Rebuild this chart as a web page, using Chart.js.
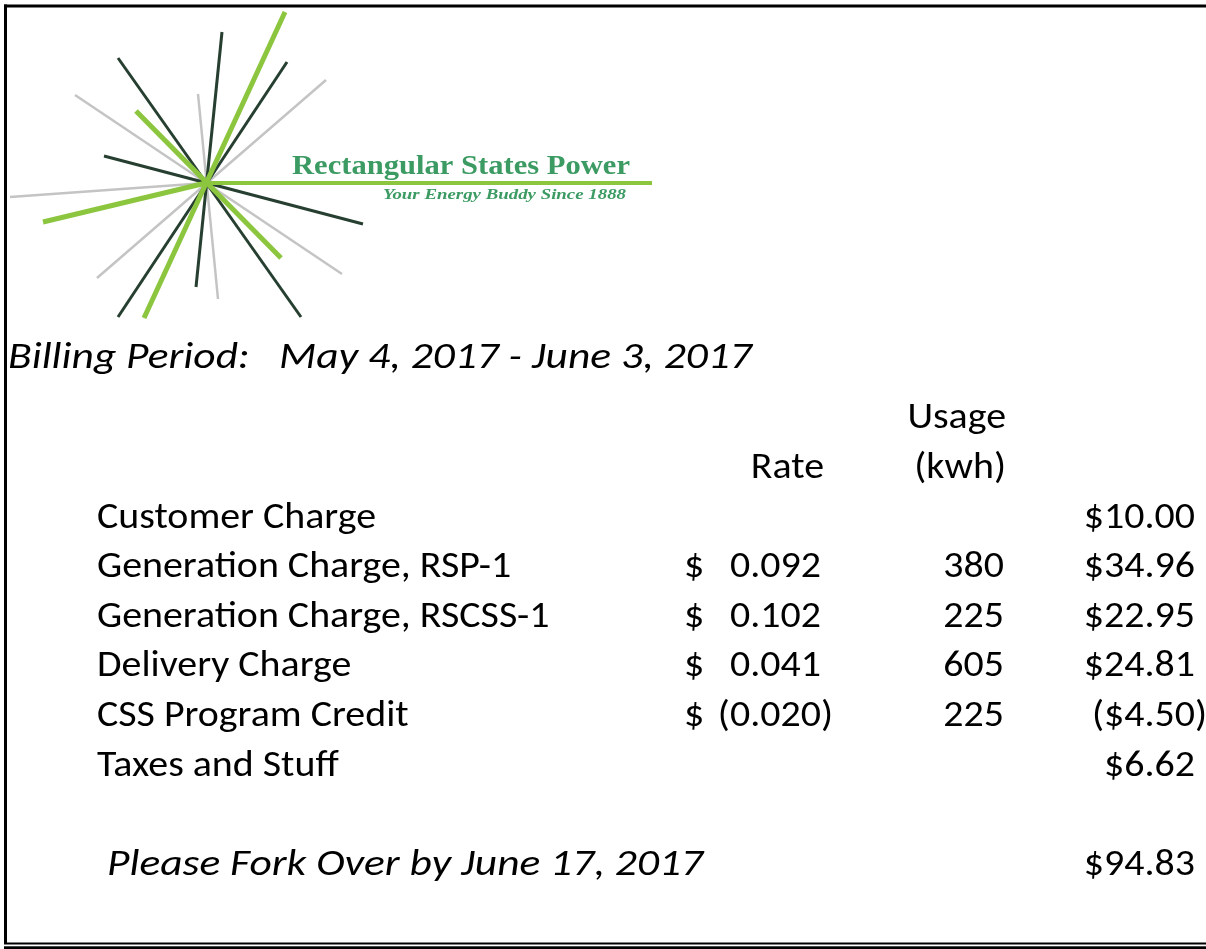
<!DOCTYPE html>
<html>
<head>
<meta charset="utf-8">
<script src="https://cdn.jsdelivr.net/npm/chart.js@4.4.0/dist/chart.umd.min.js"></script>
<style>
  html, body { margin: 0; padding: 0; background: #fff; }
  #wrap { position: relative; width: 1206px; height: 949px; overflow: hidden; }
</style>
</head>
<body>
<div id="wrap"><canvas id="bill" width="1206" height="949"></canvas></div>
<script>
// bill lines
const items = ["Customer Charge", "Generation Charge, RSP-1", "Generation Charge, RSCSS-1",
               "Delivery Charge", "CSS Program Credit", "Taxes and Stuff"];
const rates = [null, 0.092, 0.102, 0.041, -0.020, null];
const usage = [null, 380, 225, 605, 225, null];
const amounts = [10.00, 34.96, 22.95, 24.81, -4.50, 6.62];
const totalDue = 94.83;
const billingPeriod = "Billing Period:   May 4, 2017 - June 3, 2017";
const dueLine = "Please Fork Over by June 17, 2017";
const colHeaders = ["Rate", "Usage", "(kwh)"];
const company = "Rectangular States Power";
const tagline = "Your Energy Buddy Since 1888";

// logo rays (image pixels); first ones end up on top
const rayX1 = [285, 136, 43, 206,  222, 118, 287, 104,  326, 75, 10, 198];
const rayY1 = [12, 111, 222, 183,  32, 58, 62, 156,     80, 95, 197, 94];
const rayX2 = [144, 281, 206, 652, 196, 301, 118, 363,  97, 342, 206, 218];
const rayY2 = [318, 258, 183, 183, 287, 317, 317, 224,  278, 274, 183, 299];
const rayKind = ['g', 'g', 'g', 'h', 'd', 'd', 'd', 'd', 'a', 'a', 'a', 'a'];

const rayStyle = {
  g: { color: '#8cc63f', width: 5 },
  h: { color: '#8cc63f', width: 4 },
  d: { color: '#263f30', width: 3 },
  a: { color: '#c4c4c4', width: 2.5 }
};

const SANS = "Carlito, Lato, 'Open Sans', sans-serif";
const SERIF = "'Liberation Serif', 'DejaVu Serif', serif";

function fmtMoney(v) {
  const s = '$' + Math.abs(v).toFixed(2);
  return v < 0 ? '(' + s + ')' : s;
}
function fmtRate(v) {
  const s = Math.abs(v).toFixed(3);
  return v < 0 ? '(' + s + ')' : s;
}

function stretch(ctx, font, sample, target) {
  ctx.font = font;
  return target / ctx.measureText(sample).width;
}

function put(ctx, text, x, y, align, font, sx, color) {
  ctx.save();
  ctx.font = font;
  ctx.fillStyle = color || '#000';
  ctx.textAlign = align;
  ctx.textBaseline = 'alphabetic';
  ctx.translate(x, y);
  ctx.scale(sx, 1);
  ctx.fillText(text, 0, 0);
  ctx.restore();
}

const billPlugin = {
  id: 'billText',
  afterDraw(chart) {
    const ctx = chart.ctx;
    const xs = chart.scales.x, ys = chart.scales.y;
    const px = v => xs.getPixelForValue(v);
    const py = v => ys.getPixelForValue(v);

    const body = '37px ' + SANS;
    const ital = 'italic 37px ' + SANS;
    const sx = stretch(ctx, body, items[0], 279);
    const sxi = stretch(ctx, ital, dueLine, 596);

    // logo text
    const green = '#3b9b62';
    const coFont = 'bold 27px ' + SERIF;
    put(ctx, company, px(292), py(174), 'left', coFont, stretch(ctx, coFont, company, 338), green);
    const tagFont = 'italic bold 14px ' + SERIF;
    put(ctx, tagline, px(626), py(199), 'right', tagFont, stretch(ctx, tagFont, tagline, 243), green);

    put(ctx, billingPeriod, px(8), py(368), 'left', ital, sxi);

    // column headers
    const rowTop = 527.5, rowStep = 49.6;
    put(ctx, colHeaders[1], px(1006), py(rowTop - 2 * rowStep), 'right', body, sx);
    put(ctx, colHeaders[0], px(824), py(rowTop - rowStep), 'right', body, sx);
    put(ctx, colHeaders[2], px(1006), py(rowTop - rowStep), 'right', body, sx);

    ctx.font = body;
    const paren = ctx.measureText(')').width * sx;
    items.forEach((name, i) => {
      const y = py(rowTop + i * rowStep);
      put(ctx, name, px(97), y, 'left', body, sx);
      if (rates[i] !== null) {
        put(ctx, '$', px(684), y, 'left', body, sx);
        put(ctx, fmtRate(rates[i]), px(833) - (rates[i] < 0 ? 0 : paren), y, 'right', body, sx);
      }
      if (usage[i] !== null) put(ctx, String(usage[i]), px(1004), y, 'right', body, sx);
      put(ctx, fmtMoney(amounts[i]), px(1195) + (amounts[i] < 0 ? paren : 0), y, 'right', body, sx);
    });
    const yTot = py(rowTop + (items.length + 1) * rowStep);
    put(ctx, dueLine, px(107), yTot, 'left', ital, sxi);
    put(ctx, fmtMoney(totalDue), px(1195), yTot, 'right', body, sx);

    // sheet borders
    ctx.save();
    ctx.fillStyle = '#000';
    ctx.fillRect(px(4), py(4.5), px(1206) - px(4), 3);
    ctx.fillRect(px(4), py(4.5), 3, py(944) - py(4.5));
    ctx.fillRect(px(4), py(942.5), px(1206) - px(4), 2);
    ctx.fillRect(px(4), py(946.3), px(1206) - px(4), 3);
    ctx.restore();
  }
};

const datasets = rayKind.map((k, i) => ({
  label: 'ray' + i,
  data: [{ x: rayX1[i], y: rayY1[i] }, { x: rayX2[i], y: rayY2[i] }],
  showLine: true,
  borderColor: rayStyle[k].color,
  borderWidth: rayStyle[k].width,
  borderCapStyle: 'butt',
  pointRadius: 0,
  fill: false
}));

new Chart(document.getElementById('bill').getContext('2d'), {
  type: 'scatter',
  data: { datasets: datasets },
  options: {
    responsive: false,
    animation: false,
    events: [],
    layout: { padding: 0 },
    plugins: { legend: { display: false }, tooltip: { enabled: false } },
    scales: {
      x: { type: 'linear', min: 0, max: 1206, display: false },
      y: { type: 'linear', min: 0, max: 949, reverse: true, display: false }
    }
  },
  plugins: [billPlugin]
});
</script>
</body>
</html>
